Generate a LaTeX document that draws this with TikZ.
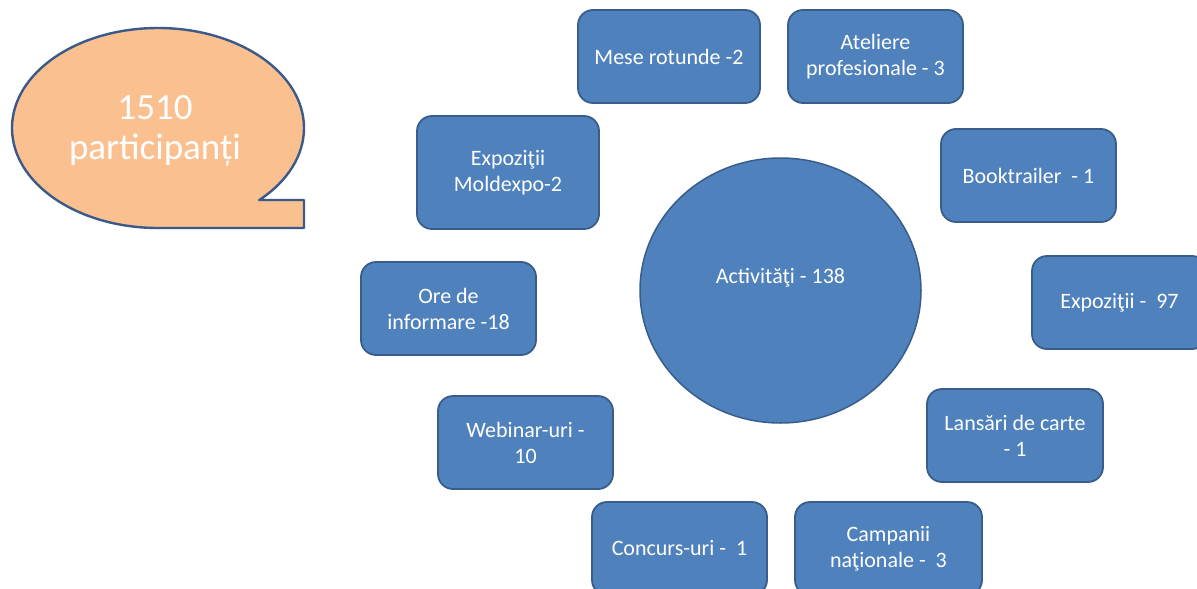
\documentclass[tikz,border=0pt]{standalone}
\usepackage{fontspec}
\setmainfont{Carlito}
\usetikzlibrary{shapes.geometric}
\definecolor{boxfill}{RGB}{79,129,189}
\definecolor{boxline}{RGB}{56,93,138}
\definecolor{bubfill}{RGB}{250,192,144}
\definecolor{bubline}{RGB}{59,90,136}
\tikzset{
  actbox/.style={draw=boxline, fill=boxfill, line width=1.8pt, rounded corners=15pt,
    minimum width=175pt, minimum height=93pt, inner sep=0pt, align=center,
    text=white, font=\fontsize{22}{26}\selectfont},
  actcirc/.style={draw=boxline, fill=boxfill, line width=1.5pt, ellipse,
    minimum width=281pt, minimum height=265pt, inner sep=0pt},
  plaintxt/.style={text=white, align=center, inner sep=0pt},
}
\begin{document}
\begin{tikzpicture}[x=1pt,y=-1pt]
\useasboundingbox (0,0) rectangle (1197,589);
\clip (0,0) rectangle (1197,589);
% speech bubble
\draw[draw=bubline, fill=bubfill, line width=2.4pt, line join=round]
  (259,200) -- (304,200) -- (304,228) -- (158,228)
  arc[start angle=90, end angle=406, x radius=146, y radius=100] -- cycle;
\node[plaintxt, font=\fontsize{37}{40}\selectfont] (part) at (155,131) {1510\\participanți};
% central circle
\node[actcirc] (act) at (780.5,290.5) {};
\node[plaintxt, font=\fontsize{22}{26}\selectfont] (acttxt) at ([yshift=13pt]act.center) {Activităţi - 138};
% boxes
\node[actbox, minimum width=182pt] (mese) at (669,56.5) {Mese rotunde -2};
\node[actbox] (atel) at (875.5,56.5) {Ateliere\\profesionale - 3};
\node[actbox] (book) at (1028.5,175.5) {Booktrailer\ \ - 1};
\node[actbox] (expo) at (1119.5,302.5) {Expoziţii -\ \ 97};
\node[actbox, minimum width=176pt] (lans) at (1015,435.5) {Lansări de carte\\- 1};
\node[actbox, minimum width=187pt] (camp) at (888.5,548.5) {Campanii\\naţionale -\ \ 3};
\node[actbox] (conc) at (679.5,548.5) {Concurs-uri -\ \ 1};
\node[actbox] (web) at (525.5,442.5) {Webinar-uri -\\10};
\node[actbox] (ore) at (448.5,308.5) {Ore de\\informare -18};
\node[actbox, minimum width=182pt, minimum height=113pt] (mold) at (508,172.5) {Expoziţii\\Moldexpo-2};
\end{tikzpicture}
\end{document}
